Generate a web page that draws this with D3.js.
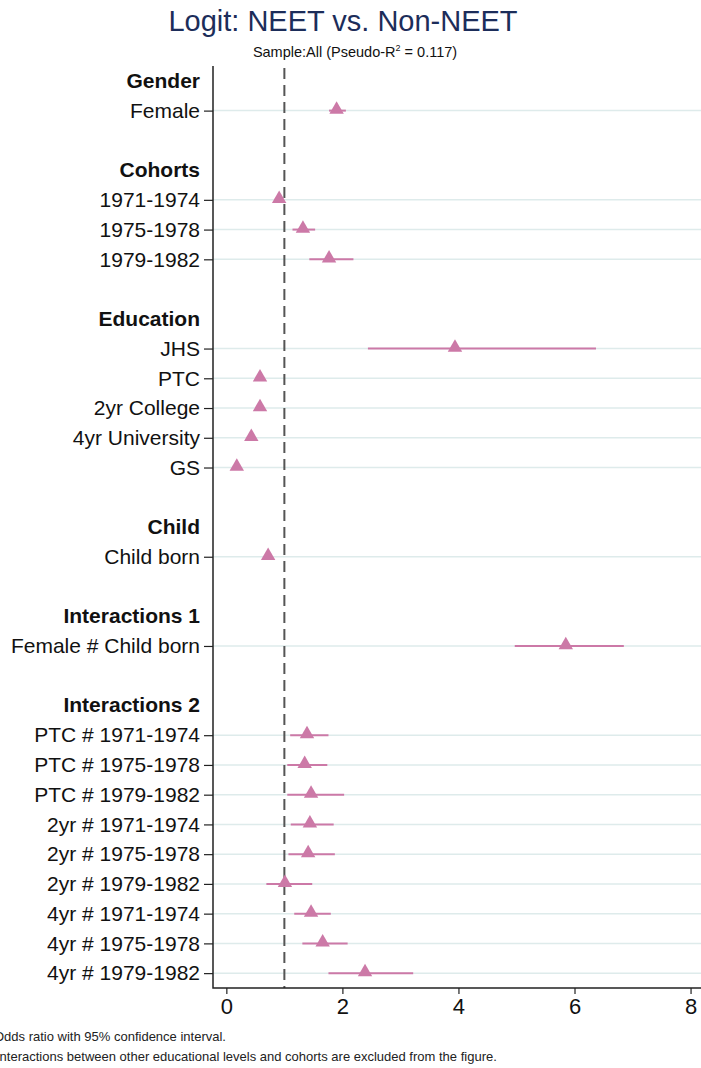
<!DOCTYPE html>
<html>
<head>
<meta charset="utf-8">
<script src="https://cdn.jsdelivr.net/npm/d3@7"></script>
<style>
  body { margin: 0; background: #fff; }
  text { font-family: "Liberation Sans", Arial, sans-serif; }
</style>
</head>
<body>
<div id="chart"></div>
<script>
// Data: odds ratios with 95% CI
var groups = ["Gender", "Cohorts", "Education", "Child", "Interactions 1", "Interactions 2"];

var terms = ["Female",
  "1971-1974", "1975-1978", "1979-1982",
  "JHS", "PTC", "2yr College", "4yr University", "GS",
  "Child born",
  "Female # Child born",
  "PTC # 1971-1974", "PTC # 1975-1978", "PTC # 1979-1982",
  "2yr # 1971-1974", "2yr # 1975-1978", "2yr # 1979-1982",
  "4yr # 1971-1974", "4yr # 1975-1978", "4yr # 1979-1982"];

var termGroup = [0, 1, 1, 1, 2, 2, 2, 2, 2, 3, 4, 5, 5, 5, 5, 5, 5, 5, 5, 5];

var oddsRatio = [1.90, 0.91, 1.32, 1.77, 3.94, 0.58, 0.58, 0.43, 0.18, 0.72, 5.85,
  1.39, 1.35, 1.46, 1.44, 1.41, 1.01, 1.46, 1.66, 2.39];
var lowerCI = [1.77, 0.83, 1.14, 1.43, 2.44, 0.52, 0.52, 0.38, 0.13, 0.66, 4.97,
  1.10, 1.05, 1.05, 1.11, 1.07, 0.69, 1.17, 1.31, 1.76];
var upperCI = [2.06, 0.99, 1.53, 2.19, 6.37, 0.65, 0.65, 0.49, 0.25, 0.78, 6.85,
  1.76, 1.74, 2.03, 1.85, 1.87, 1.48, 1.80, 2.09, 3.22];

var xTicks = [0, 2, 4, 6, 8];
var refLine = 1;

var title = "Logit: NEET vs. Non-NEET";
var notes = ["Odds ratio with 95% confidence interval.",
  "Interactions between other educational levels and cohorts are excluded from the figure."];

// Set up the svg params
var svgWidth = 701;
var svgHeight = 1068;
var plot = { left: 213, right: 701, top: 66, bottom: 988 };

var svg = d3.select("#chart").append("svg")
    .attr("width", svgWidth)
    .attr("height", svgHeight);

// Build the row list: header, terms, blank spacer between groups
var rows = [];
groups.forEach(function(g, gi) {
  rows.push({ key: "h" + gi, label: g, type: "header" });
  terms.forEach(function(t, i) {
    if (termGroup[i] === gi) {
      rows.push({ key: t, label: t, type: "term", or: oddsRatio[i], lo: lowerCI[i], hi: upperCI[i] });
    }
  });
  if (gi < groups.length - 1) rows.push({ key: "b" + gi, label: "", type: "blank" });
});
var termRows = rows.filter(d => d.type === "term");

// Scales
var yScale = d3.scalePoint()
    .domain(rows.map(d => d.key))
    .range([plot.top, plot.bottom])
    .padding(0.5);

var xScale = d3.scaleLinear()
    .domain([-0.23, 8.18])
    .range([plot.left, plot.right]);

// Gridlines
svg.append("g").selectAll("line")
  .data(termRows)
  .enter()
  .append("line")
    .attr("x1", plot.left)
    .attr("x2", plot.right)
    .attr("y1", d => yScale(d.key))
    .attr("y2", d => yScale(d.key))
    .attr("stroke", "#deebeb")
    .attr("stroke-width", 1.5);

// Reference line at OR = 1
svg.append("line")
    .attr("x1", xScale(refLine))
    .attr("x2", xScale(refLine))
    .attr("y1", plot.top + 2)
    .attr("y2", plot.bottom)
    .attr("stroke", "#555")
    .attr("stroke-width", 2)
    .attr("stroke-dasharray", "11,6");

// Confidence intervals
svg.append("g").selectAll("line")
  .data(termRows)
  .enter()
  .append("line")
    .attr("x1", d => xScale(d.lo))
    .attr("x2", d => xScale(d.hi))
    .attr("y1", d => yScale(d.key))
    .attr("y2", d => yScale(d.key))
    .attr("stroke", "#cc79a7")
    .attr("stroke-width", 2);

// Point estimates
svg.append("g").selectAll("path")
  .data(termRows)
  .enter()
  .append("path")
    .attr("d", d3.symbol().type(d3.symbolTriangle).size(90))
    .attr("transform", d => `translate(${xScale(d.or)}, ${yScale(d.key) - 1})`)
    .attr("fill", "#cc79a7");

// Axes
var leftAxis = d3.axisLeft(yScale)
    .tickValues(termRows.map(d => d.key))
    .tickSize(9)
    .tickPadding(4)
    .tickSizeOuter(0);

var yAxisG = svg.append("g")
    .attr("transform", `translate(${plot.left}, 0)`)
    .call(leftAxis);
yAxisG.select(".domain").remove();
yAxisG.selectAll("text").style("font-size", "21px").attr("fill", "#111");
yAxisG.selectAll("line").attr("stroke", "#222").attr("stroke-width", 1.2);

var bottomAxis = d3.axisBottom(xScale)
    .tickValues(xTicks)
    .tickSize(6)
    .tickPadding(4)
    .tickSizeOuter(0);

var xAxisG = svg.append("g")
    .attr("transform", `translate(0, ${plot.bottom})`)
    .call(bottomAxis);
xAxisG.select(".domain").remove();
xAxisG.selectAll("text").style("font-size", "22px").attr("fill", "#111");
xAxisG.selectAll("line").attr("stroke", "#222").attr("stroke-width", 1.2);

// Axis lines
svg.append("path")
    .attr("d", `M${plot.left},${plot.top}V${plot.bottom}H${plot.right}`)
    .attr("fill", "none")
    .attr("stroke", "#222")
    .attr("stroke-width", 1.5);

// Group headers
svg.append("g").selectAll("text")
  .data(rows.filter(d => d.type === "header"))
  .enter()
  .append("text")
    .attr("x", plot.left - 13)
    .attr("y", d => yScale(d.key))
    .attr("dy", "0.32em")
    .attr("text-anchor", "end")
    .style("font-size", "21px")
    .style("font-weight", "bold")
    .attr("fill", "#111")
    .text(d => d.label);

// Titles
svg.append("text")
    .attr("x", 343)
    .attr("y", 31)
    .attr("text-anchor", "middle")
    .style("font-size", "29px")
    .attr("fill", "#1c2d5a")
    .text(title);

var sub = svg.append("text")
    .attr("x", 355)
    .attr("y", 57)
    .attr("text-anchor", "middle")
    .style("font-size", "14.5px")
    .attr("fill", "#111");
sub.append("tspan").text("Sample:All (Pseudo-R");
sub.append("tspan").attr("dy", -6).style("font-size", "9px").text("2");
sub.append("tspan").attr("dy", 6).text(" = 0.117)");

// Notes (left edge is cropped in the original)
svg.append("g").selectAll("text")
  .data(notes)
  .enter()
  .append("text")
    .attr("x", (d, i) => i === 0 ? -6 : -4)
    .attr("y", (d, i) => 1041 + i * 20)
    .style("font-size", "13px")
    .attr("fill", "#222")
    .text(d => d);
</script>
</body>
</html>
